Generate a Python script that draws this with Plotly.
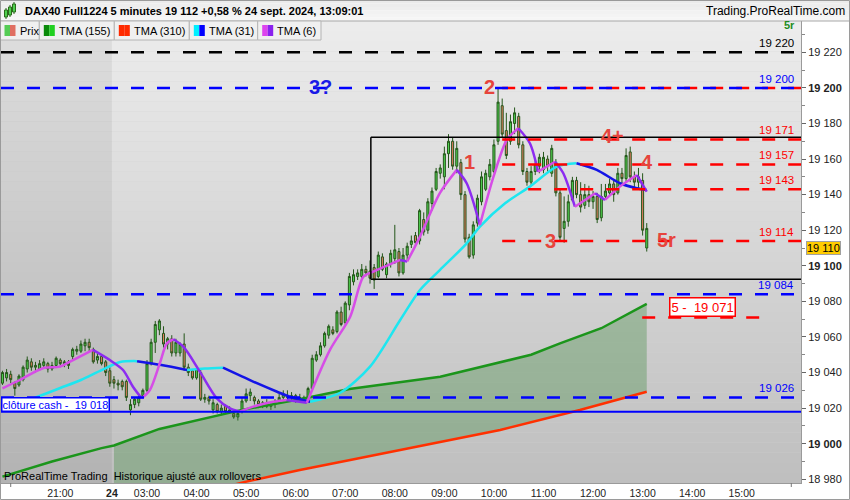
import plotly.graph_objects as go

# ---------------- data ----------------
bar_index = list(range(157))   # 5-minute bars; 0 = 19:50 (23 sept.), 27 = first bar of the 24th

opens = [19034,19037,19039,19034,19033,19036,19042,19046,19043,19042,19044,19045,19042,19044,19047,19045,19046,19049,19052,19052,
         19055,19057,19053,19047,19049,19046,19041,19036,19034,19035,19035,19019,19022,19023,19027,19030,19045,19057,19064,19062,
         19056,19059,19051,19051,19056,19043,19041,19037,19040,19025,19026,19019,19022,19018,19021,19018,19017,19015,19018,19024,
         19027,19026,19024,19022,19023,19021,19022,19024,19026,19027,19026,19027,19025,19026,19025,19031,19047,19050,19055,19061,
         19064,19063,19074,19068,19078,19091,19094,19094,19098,19097,19099,19094,19105,19095,19101,19104,19108,19096,19106,19112,
         19117,19114,19126,19120,19135,19143,19152,19150,19163,19170,19156,19158,19140,19116,19106,19124,19136,19143,19150,19153,
         19170,19190,19176,19170,19180,19184,19168,19153,19147,19153,19156,19154,19160,19152,19158,19141,19121,19125,19137,19148,
         19140,19134,19140,19136,19139,19127,19139,19141,19146,19141,19152,19149,19164,19150,19147,19148,19110]
highs = [19041,19042,19041,19035,19039,19044,19049,19048,19046,19047,19048,19046,19046,19049,19048,19047,19047,19054,19055,19058,
         19059,19059,19054,19051,19050,19047,19043,19038,19036,19036,19036,19025,19026,19028,19031,19047,19059,19069,19070,19066,
         19060,19061,19059,19057,19062,19045,19042,19044,19042,19028,19027,19025,19023,19022,19022,19021,19018,19018,19026,19031,
         19031,19027,19025,19024,19025,19024,19025,19028,19030,19030,19029,19028,19028,19027,19032,19050,19052,19057,19063,19067,
         19066,19075,19077,19080,19096,19098,19098,19101,19100,19103,19101,19108,19107,19102,19109,19123,19110,19110,19113,19117,
         19119,19132,19130,19138,19144,19155,19157,19167,19174,19172,19170,19160,19142,19118,19125,19140,19153,19154,19160,19171,
         19200,19194,19186,19185,19189,19186,19170,19155,19156,19160,19163,19164,19162,19168,19160,19143,19139,19140,19150,19150,
         19147,19146,19145,19142,19141,19146,19146,19149,19148,19155,19155,19166,19167,19153,19155,19152,19124]
lows = [19033,19035,19034,19027,19032,19035,19040,19041,19040,19041,19043,19040,19041,19043,19043,19043,19042,19047,19050,19051,
        19052,19052,19045,19045,19044,19038,19032,19031,19030,19030,19024,19016,19020,19021,19026,19029,19044,19051,19061,19054,
        19053,19049,19049,19049,19041,19038,19036,19036,19024,19023,19022,19017,19017,19016,19017,19017,19014,19013,19017,19023,
        19024,19022,19020,19020,19020,19019,19020,19023,19024,19024,19024,19023,19024,19023,19024,19030,19046,19049,19054,19059,
        19061,19062,19066,19066,19075,19089,19092,19092,19094,19090,19087,19093,19097,19093,19099,19101,19094,19095,19103,19110,
        19111,19112,19117,19118,19131,19142,19149,19143,19155,19154,19152,19137,19113,19104,19104,19122,19134,19142,19148,19152,
        19168,19172,19160,19168,19174,19166,19151,19145,19145,19151,19152,19152,19153,19150,19139,19114,19113,19122,19136,19138,
        19130,19132,19133,19132,19124,19125,19137,19139,19136,19140,19146,19147,19147,19144,19143,19117,19108]
closes = [19040,19040,19036,19031,19038,19043,19047,19043,19044,19045,19046,19042,19044,19048,19045,19046,19044,19053,19053,19056,
          19057,19054,19046,19049,19045,19040,19034,19034,19033,19032,19026,19022,19025,19026,19030,19045,19057,19067,19069,19056,
          19059,19051,19057,19056,19043,19040,19037,19042,19025,19026,19024,19023,19018,19020,19018,19019,19015,19017,19024,19028,
          19029,19024,19022,19023,19021,19022,19024,19026,19028,19026,19027,19025,19026,19024,19031,19048,19050,19055,19062,19066,
          19062,19074,19067,19079,19094,19095,19096,19098,19096,19093,19092,19106,19098,19101,19107,19109,19096,19106,19111,19114,
          19113,19131,19119,19136,19142,19153,19155,19163,19170,19156,19166,19140,19115,19105,19123,19138,19150,19152,19157,19168,
          19192,19174,19162,19181,19186,19168,19153,19147,19153,19157,19161,19161,19156,19166,19141,19116,19125,19136,19148,19140,
          19133,19140,19136,19139,19126,19139,19142,19146,19140,19152,19149,19162,19150,19147,19150,19120,19121]

tma155_x = [0, 12, 24, 27, 38, 58, 72, 84, 106, 128, 135, 145, 156]
tma155_y = [18981.5, 18990, 18997.5, 18999, 19008.3, 19019, 19025, 19030.7, 19037.6, 19050, 19056.4, 19064.9, 19078.6]

tma310_x = [27, 44, 58.7, 72, 84.2, 102.3, 120.5, 139.8, 156]
tma310_y = [18962, 18970, 18978.5, 18985.2, 18990.8, 18999.3, 19007.7, 19018.9, 19029.2]

tma31_x = [0, 9, 14, 19, 24, 28.5, 32.6, 38.5, 44.7, 49, 53.4, 60.7, 66.5, 69.6, 74.5, 81.7, 89, 96.3, 101.1, 105.9,
           112.4, 115.6, 121.7, 127.7, 134.2, 139, 143.9, 149.5, 153.6, 156]
tma31_y = [19019, 19026.8, 19031.3, 19035.8, 19041.4, 19045.9, 19046.4, 19044.2, 19041.4, 19042.2, 19042.7, 19034.9,
           19029.2, 19026.4, 19023.6, 19028.5, 19043.3, 19069.5, 19086.4, 19097.6, 19112.6, 19122, 19135.1, 19144.5,
           19155.7, 19157.6, 19153.9, 19146.4, 19143.6, 19142.6]

tma6_x = [0, 4.2, 9.8, 13.9, 17.1, 21.9, 26, 29.2, 31.6, 33.7, 35.7, 38.1, 39.8, 41.4, 43.8, 47.8, 51.9, 55.1, 57.5,
          60.7, 65.5, 68.8, 73.7, 79.3, 84.2, 87.4, 89.8, 96.3, 98, 101.1, 105.9, 110, 112.4, 115.6, 118.9, 122.1,
          124.9, 127.7, 129.7, 133.8, 135.8, 138.6, 143.5, 145.9, 149.5, 153.6, 156]
tma6_y = [19031.1, 19035.8, 19042.4, 19043.3, 19047, 19052.7, 19047, 19041.4, 19032, 19025.5, 19030.2, 19045.2, 19056.4,
          19058.7, 19054.5, 19040.5, 19025.5, 19019.9, 19018, 19020.8, 19023.6, 19024.6, 19023, 19052.7, 19071.4, 19093.9,
          19096.7, 19103.3, 19102.4, 19116.4, 19140.8, 19153.9, 19146.4, 19122.9, 19150.1, 19170.7, 19177.3, 19168.9,
          19152.9, 19158.5, 19152, 19133.2, 19140.8, 19137, 19144.5, 19151, 19141.7]

# horizontal levels
black_levels = [19220]
blue_levels = [19200, 19084, 19026]
red_levels = [19200, 19171, 19157, 19143, 19114]
red_label_levels = [19171, 19157, 19143, 19114]
cash_close = 19018
target_level = 19071
box_low, box_high = 19092.4, 19172.3
last_price_tag = 19110

# wave marks (text, bar, price)
red_marks = [("1", 113.2, 19158.3), ("2", 118, 19200.5), ("3", 132.8, 19114), ("4+", 147.6, 19173),
             ("4", 156, 19158.3), ("5r", 160.9, 19114.5)]
blue_marks = [("3?", 76.9, 19200.5)]

x_tick_vals = [14, 26.5, 35, 47, 59, 71, 83, 95, 107, 119, 131, 143, 155, 167, 179]
x_tick_text = ["21:00", "<b>24</b>", "03:00", "04:00", "05:00", "06:00", "07:00", "08:00", "09:00",
               "10:00", "11:00", "12:00", "13:00", "14:00", "15:00"]
y_tick_vals = [18980, 19000, 19020, 19040, 19060, 19080, 19100, 19120, 19140, 19160, 19180, 19200, 19220]
y_tick_text = ["18 980", "<b>19 000</b>", "19 020", "19 040", "19 060", "19 080", "<b>19 100</b>",
               "19 120", "19 140", "19 160", "19 180", "<b>19 200</b>", "19 220"]
y_minor_vals = [18990, 19010, 19030, 19050, 19070, 19090, 19110, 19130, 19150, 19170, 19190, 19210, 19230]

# ---------------- layout geometry ----------------
W, H = 850, 500
ML, MR, MT, MB = 1, 49, 21, 17
X_MIN, X_MAX = -0.351, 193.35
Y_MIN, Y_MAX = 18977.9, 19237.6
DAY_SPLIT = 26.5
FONT = "Liberation Sans, Arial, sans-serif"


def pxx(px):
    return (px - ML) / (W - ML - MR)


def pxy(py):
    return (H - MB - py) / (H - MT - MB)


fig = go.Figure()

# fill between TMA155 and TMA310 (current day)
fx = [x for x in tma155_x if x >= 27]
fy = [y for x, y in zip(tma155_x, tma155_y) if x >= 27]
fig.add_trace(go.Scatter(x=fx + tma310_x[::-1], y=fy + tma310_y[::-1], fill="toself",
                         fillcolor="rgba(55,135,55,0.33)", line=dict(width=0), mode="lines",
                         hoverinfo="skip", showlegend=False))
fig.add_trace(go.Scatter(x=tma310_x, y=tma310_y, mode="lines", line=dict(color="#ff3000", width=2.5),
                         hoverinfo="skip", showlegend=False))
fig.add_trace(go.Scatter(x=tma155_x, y=tma155_y, mode="lines", line=dict(color="#1b951b", width=2.5),
                         hoverinfo="skip", showlegend=False))

fig.add_trace(go.Candlestick(
    x=bar_index, open=opens, high=highs, low=lows, close=closes,
    increasing=dict(line=dict(color="#24561a", width=1), fillcolor="#4ed04e"),
    decreasing=dict(line=dict(color="#24561a", width=1), fillcolor="#e47b62"),
    whiskerwidth=0, hoverinfo="skip", showlegend=False))


def runs(xs, ys):
    out, cur, sign = [], [0], None
    for k in range(1, len(xs)):
        s = 1 if ys[k] >= ys[k - 1] else -1
        if sign is None or s == sign:
            cur.append(k)
            sign = s
        else:
            out.append((sign, cur))
            cur, sign = [k - 1, k], s
    out.append((sign, cur))
    return out


for xs, ys, up_c, dn_c in [(tma31_x, tma31_y, "#1ee6f0", "#1414e6"),
                           (tma6_x, tma6_y, "#d64ee6", "#8c2cf0")]:
    for sign, idx in runs(xs, ys):
        fig.add_trace(go.Scatter(x=[xs[k] for k in idx], y=[ys[k] for k in idx], mode="lines",
                                 line=dict(color=up_c if sign > 0 else dn_c, width=2.5, shape="spline", smoothing=0.8),
                                 hoverinfo="skip", showlegend=False))

shapes = []
# plot background gradient
NB = 46
for k in range(NB):
    t = (k + 0.5) / NB
    g = int(round(190 + (237 - 190) * t))
    shapes.append(dict(type="rect", xref="paper", yref="paper", x0=0, x1=1, y0=k / NB, y1=(k + 1) / NB,
                       fillcolor=f"rgb({g},{g},{g})", line=dict(width=0), layer="below"))
shapes.append(dict(type="rect", xref="x", yref="paper", x0=X_MIN, x1=DAY_SPLIT, y0=0, y1=1,
                   fillcolor="rgba(0,0,0,0.06)", line=dict(width=0), layer="below"))

DASH = "13px,13px"
for v in black_levels:
    shapes.append(dict(type="line", xref="paper", yref="y", x0=0, x1=1, y0=v, y1=v,
                       line=dict(color="#000000", width=2.5, dash=DASH), layer="above"))
for v in red_levels:
    shapes.append(dict(type="line", xref="x", yref="y", x0=121, x1=X_MAX, y0=v, y1=v,
                       line=dict(color="#ff0000", width=2.5, dash=DASH), layer="above"))
for v in blue_levels:
    shapes.append(dict(type="line", xref="paper", yref="y", x0=0, x1=1, y0=v, y1=v,
                       line=dict(color="#0000ff", width=2.5, dash=DASH), layer="above"))
shapes.append(dict(type="line", xref="x", yref="y", x0=154.9, x1=183.4, y0=target_level, y1=target_level,
                   line=dict(color="#ff0000", width=2.5, dash=DASH), layer="above"))
shapes.append(dict(type="line", xref="paper", yref="y", x0=0, x1=1, y0=cash_close, y1=cash_close,
                   line=dict(color="#0000ff", width=2), layer="above"))
# black range box
for (x0, x1, y0, y1) in [(89.2, X_MAX, box_high, box_high), (89.2, X_MAX, box_low, box_low),
                         (89.2, 89.2, box_low, box_high)]:
    shapes.append(dict(type="line", xref="x", yref="y", x0=x0, x1=x1, y0=y0, y1=y1,
                       line=dict(color="#000000", width=1.5), layer="above"))

# header
for k in range(6):
    g = int(round(246 - k * 2.2))
    shapes.append(dict(type="rect", xref="paper", yref="paper", x0=pxx(0), x1=pxx(850),
                       y0=pxy(21 - k * 3.5), y1=pxy(21 - (k + 1) * 3.5),
                       fillcolor=f"rgb({g},{g},{g})", line=dict(width=0), layer="above"))
shapes.append(dict(type="line", xref="paper", yref="paper", x0=pxx(0), x1=pxx(850), y0=pxy(21), y1=pxy(21),
                   line=dict(color="#a8a8a8", width=1)))
# header icon (small candles)
for (cx, y0, y1) in [(6, 10, 17), (10, 7, 15), (14, 4, 12)]:
    shapes.append(dict(type="line", xref="paper", yref="paper", x0=pxx(cx), x1=pxx(cx), y0=pxy(y1 + 2), y1=pxy(y0 - 2),
                       line=dict(color="#2a6a1a", width=1)))
    shapes.append(dict(type="rect", xref="paper", yref="paper", x0=pxx(cx - 1.5), x1=pxx(cx + 1.5), y0=pxy(y1), y1=pxy(y0),
                       fillcolor="#4ed04e", line=dict(color="#2a6a1a", width=1)))

# legend row boxes
legend_boxes = [(0, 39.3, "Prix", ("#55cc55", "#e06f62")),
                (39.3, 114.3, "TMA (155)", ("#0a8a0a", "#20d020")),
                (114.3, 189.3, "TMA (310)", ("#ff2a00", "#ff2a00")),
                (189.3, 257.7, "TMA (31)", ("#00f0ff", "#0000ff")),
                (257.7, 321, "TMA (6)", ("#dd44ee", "#8a22ee"))]
annotations = []
for (a, b, label, (c1, c2)) in legend_boxes:
    shapes.append(dict(type="rect", xref="paper", yref="paper", x0=pxx(a), x1=pxx(b), y0=pxy(40), y1=pxy(21),
                       fillcolor="#f0f0f0", line=dict(color="#b4b4b4", width=1), layer="above"))
    shapes.append(dict(type="rect", xref="paper", yref="paper", x0=pxx(a + 4.5), x1=pxx(a + 10), y0=pxy(36), y1=pxy(25),
                       fillcolor=c1, line=dict(width=0), layer="above"))
    shapes.append(dict(type="rect", xref="paper", yref="paper", x0=pxx(a + 10), x1=pxx(a + 15.5), y0=pxy(36), y1=pxy(25),
                       fillcolor=c2, line=dict(width=0), layer="above"))
    annotations.append(dict(text=label, xref="paper", yref="paper", x=pxx(a + 17.5), y=pxy(30.5),
                            xanchor="left", yanchor="middle", showarrow=False,
                            font=dict(family=FONT, size=11, color="#000000")))

# outer frame and small unlabeled x ticks
shapes.append(dict(type="rect", xref="paper", yref="paper", x0=pxx(0.5), x1=pxx(849.5), y0=pxy(499.5), y1=pxy(0.5),
                   line=dict(color="#9a9a9a", width=1)))
for xv in [2, 191]:
    shapes.append(dict(type="line", xref="x", yref="paper", x0=xv, x1=xv, y0=0, y1=pxy(487),
                       line=dict(color="#777777", width=1)))

annotations.append(dict(text="<b>DAX40 Full1224 5 minutes 19 112 +0,58 % 24 sept. 2024, 13:09:01</b>",
                        xref="paper", yref="paper", x=pxx(23), y=pxy(11), xanchor="left", yanchor="middle",
                        showarrow=False, font=dict(family=FONT, size=11, color="#000000")))
annotations.append(dict(text="Trading.ProRealTime.com", xref="paper", yref="paper", x=pxx(847), y=pxy(11.5),
                        xanchor="right", yanchor="middle", showarrow=False,
                        font=dict(family=FONT, size=12, color="#000000")))
# small green label partly hidden under the header in the reference
annotations.append(dict(text="<b>5r</b>", xref="paper", yref="paper", x=pxx(797), y=pxy(25.5),
                        xanchor="right", yanchor="middle", showarrow=False,
                        font=dict(family=FONT, size=11, color="#1e8c1e")))

# level labels at right
level_label_list = [(v, "#000000") for v in black_levels] + [(19200, "#0000ff")] + \
                   [(v, "#ff0000") for v in red_label_levels] + [(19084, "#0000ff"), (19026, "#0000ff")]
for v, c in level_label_list:
    annotations.append(dict(text=f"{int(v) // 1000} {int(v) % 1000:03d}", xref="paper", yref="y", x=pxx(796), y=v,
                            xanchor="right", yanchor="bottom", yshift=1, showarrow=False,
                            font=dict(family=FONT, size=11.5, color=c)))

for t, xv, yv in red_marks:
    annotations.append(dict(text=f"<b>{t}</b>", x=xv, y=yv, xref="x", yref="y", showarrow=False,
                            xanchor="center", yanchor="middle", font=dict(family=FONT, size=20, color="#e6443c")))
for t, xv, yv in blue_marks:
    annotations.append(dict(text=f"<b>{t}</b>", x=xv, y=yv, xref="x", yref="y", showarrow=False,
                            xanchor="center", yanchor="middle", font=dict(family=FONT, size=20, color="#1a1ae6")))

annotations.append(dict(text="clôture cash -\u00a0 19 018", xref="paper", yref="y", x=pxx(1), y=cash_close,
                        xanchor="left", yanchor="bottom", showarrow=False, bgcolor="#ffffff",
                        bordercolor="#0000ff", borderwidth=1.5, borderpad=0,
                        font=dict(family=FONT, size=11, color="#0000ff")))
annotations.append(dict(text="5 -\u00a0 19 071", xref="x", yref="y", x=169.5, y=target_level,
                        xanchor="center", yanchor="bottom", showarrow=False, bgcolor="#ffffff",
                        bordercolor="#ff0000", borderwidth=1.5, borderpad=1,
                        font=dict(family=FONT, size=13, color="#ff0000")))
annotations.append(dict(text="ProRealTime Trading  Historique ajusté aux rollovers", xref="paper", yref="paper",
                        x=pxx(2), y=pxy(476), xanchor="left", yanchor="middle", showarrow=False,
                        font=dict(family=FONT, size=11, color="#000000")))
annotations.append(dict(text=f"{last_price_tag // 1000} {last_price_tag % 1000:03d}", xref="paper", yref="y",
                        x=pxx(806), y=last_price_tag, xanchor="left", yanchor="middle", showarrow=False,
                        bgcolor="#ffcc00", bordercolor="#a0a0a0", borderwidth=1, borderpad=0,
                        font=dict(family=FONT, size=11, color="#000000")))

fig.update_layout(
    width=W, height=H, margin=dict(l=ML, r=MR, t=MT, b=MB, pad=0),
    paper_bgcolor="#ffffff", plot_bgcolor="#d0d0d0",
    showlegend=False, hovermode=False,
    shapes=shapes, annotations=annotations,
    font=dict(family=FONT, size=11, color="#222222"),
    xaxis=dict(range=[X_MIN, X_MAX], rangeslider=dict(visible=False), showgrid=False, zeroline=False,
               tickmode="array", tickvals=x_tick_vals, ticktext=x_tick_text, ticks="",
               tickfont=dict(family=FONT, size=10.5, color="#222222"),
               showline=True, linecolor="#9a9a9a", linewidth=1, fixedrange=True),
    yaxis=dict(range=[Y_MIN, Y_MAX], side="right", showgrid=False, zeroline=False,
               tickmode="array", tickvals=y_tick_vals, ticktext=y_tick_text,
               ticks="outside", ticklen=4, tickcolor="#666666",
               minor=dict(tickmode="array", tickvals=y_minor_vals, ticks="outside", ticklen=3, tickcolor="#888888"),
               tickfont=dict(family=FONT, size=11, color="#222222"),
               showline=True, linecolor="#9a9a9a", linewidth=1, fixedrange=True),
)

fig.write_html("out.html", config={"displayModeBar": False},
               post_script="document.body.style.margin='0';document.body.style.padding='0';")
